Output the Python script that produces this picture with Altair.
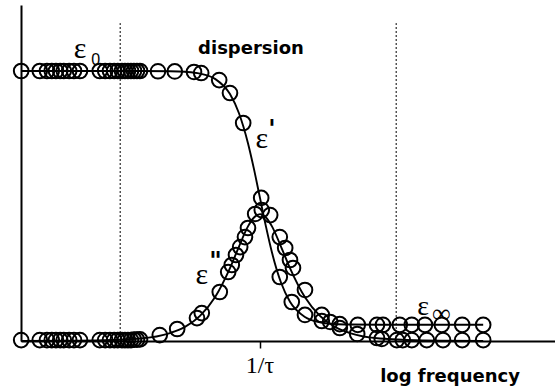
import altair as alt
import pandas as pd

# log frequency in decades relative to 1/tau ; permittivity in arbitrary units
curve_u = [-3.98, -3.0, -2.0, -1.5, -1.25, -1.0, -0.75, -0.5, -0.35, -0.2, -0.1, 0.0,
           0.1, 0.2, 0.35, 0.5, 0.75, 1.0, 1.25, 1.5, 2.0, 3.0, 3.72]
curve_eps1 = [20.0, 20.0, 20.0, 19.98, 19.94, 19.81, 19.42, 18.29, 16.87, 14.65, 12.73, 10.6,
              8.47, 6.55, 4.33, 2.91, 1.78, 1.39, 1.26, 1.22, 1.2, 1.2, 1.2]
curve_eps2 = [0.0, 0.02, 0.19, 0.59, 1.05, 1.86, 3.24, 5.40, 7.0, 8.49, 9.15, 9.4,
              9.15, 8.49, 7.0, 5.40, 3.24, 1.86, 1.05, 0.59, 0.19, 0.02, 0.0]

pts1_u = [-3.98, -3.67, -3.55, -3.47, -3.40, -3.33, -3.27, -3.18, -3.10, -3.00,
          -2.67, -2.58, -2.50, -2.43, -2.37, -2.30, -2.25, -2.20, -2.15, -2.10, -2.05, -2.00,
          -1.70, -1.42, -1.10, -0.98, -0.68, -0.50, -0.28, 0.02, 0.33, 0.53, 0.75, 1.03,
          1.33, 1.63, 1.95, 2.05, 2.33, 2.53, 2.75, 3.03, 3.37, 3.72]
pts1_v = [20.0, 20.0, 20.0, 20.0, 20.0, 20.0, 20.0, 20.0, 20.0, 20.0,
          20.0, 20.0, 20.0, 20.0, 20.0, 20.0, 20.0, 20.0, 20.0, 20.0, 20.0, 20.0,
          19.98, 19.97, 19.93, 19.85, 19.33, 18.37, 16.15, 10.6, 4.74, 2.89, 1.93, 1.48,
          1.25, 1.2, 1.2, 1.2, 1.2, 1.2, 1.2, 1.2, 1.2, 1.2]

pts2_u = [-3.98, -3.67, -3.55, -3.47, -3.40, -3.33, -3.27, -3.18, -3.10, -3.00,
          -2.67, -2.58, -2.50, -2.43, -2.37, -2.30, -2.25, -2.20, -2.15, -2.10, -2.05, -2.00,
          -1.67, -1.38, -1.05, -0.97, -0.67, -0.53, -0.47, -0.40, -0.33, -0.25, -0.20, -0.08,
          0.03, 0.17, 0.33, 0.42, 0.50, 0.55, 0.75, 1.03, 1.17, 1.33, 1.62, 1.95, 2.03,
          2.28, 2.38, 2.53, 2.78, 3.05, 3.37, 3.72]
pts2_v = [0.07, 0.07, 0.07, 0.07, 0.07, 0.07, 0.07, 0.07, 0.07, 0.07,
          0.07, 0.07, 0.07, 0.07, 0.07, 0.07, 0.07, 0.07, 0.07, 0.1, 0.1, 0.12,
          0.44, 0.89, 1.70, 2.07, 3.63, 5.11, 5.63, 6.37, 6.96, 7.70, 8.37, 9.41,
          9.70, 9.33, 7.70, 6.89, 6.0, 5.41, 3.78, 1.93, 1.41, 0.96, 0.52, 0.22, 0.15,
          0.07, 0.07, 0.07, 0.07, 0.07, 0.07, 0.07]

marker_u = [-2.33, 2.27]
marker_top = 23.55

X_DOMAIN = [-3.983, 4.917]
Y_DOMAIN = [0, 24.89]

xaxis = alt.Axis(domain=True, domainColor="black", domainWidth=2, values=[0], ticks=True,
                 tickSize=7, tickWidth=1.5, tickColor="black", labels=False, grid=False, title=None)
yaxis = alt.Axis(domain=True, domainColor="black", domainWidth=2, ticks=False, labels=False,
                 grid=False, title=None)
X = alt.X("u:Q", scale=alt.Scale(domain=X_DOMAIN, nice=False, zero=False), axis=xaxis)
Y = alt.Y("v:Q", scale=alt.Scale(domain=Y_DOMAIN, nice=False, zero=False), axis=yaxis)

curves = pd.DataFrame({
    "u": curve_u + curve_u,
    "v": curve_eps1 + curve_eps2,
    "s": ["eps1"] * len(curve_u) + ["eps2"] * len(curve_u),
})
points = pd.DataFrame({
    "u": pts1_u + pts2_u,
    "v": pts1_v + pts2_v,
})
rules = pd.DataFrame({"u": marker_u, "v": [0, 0], "v2": [marker_top, marker_top]})

rule_layer = alt.Chart(rules).mark_rule(color="black", strokeWidth=1, strokeDash=[2, 2]).encode(
    x=X, y=Y, y2="v2:Q")

line_layer = alt.Chart(curves).mark_line(color="black", strokeWidth=1.9, interpolate="monotone").encode(
    x=X, y=Y, detail="s:N")

point_layer = alt.Chart(points).mark_point(shape="circle", filled=False, color="black",
                                           size=215, strokeWidth=2, opacity=1).encode(x=X, y=Y)

serif_txt = pd.DataFrame({
    "t": ["ε", "ε", "ε", "ε", "∞", "1/τ"],
    "u": [-3.0, 0.03, -0.97, 2.72, 3.02, 0.0],
    "v": [21.0, 14.3, 4.2, 1.95, 1.4, -2.35],
    "sz": [30, 30, 30, 28, 26, 24],
})
serif_layer = alt.Chart(serif_txt).mark_text(font="Liberation Serif", baseline="alphabetic",
                                             align="center", color="black").encode(
    x=X, y=Y, text="t:N", size=alt.Size("sz:Q", scale=None))

bold_txt = pd.DataFrame({
    "t": ["dispersion", "log frequency", "'", "\""],
    "u": [-0.15, 3.167, 0.2, -0.74],
    "v": [21.26, -3.04, 15.1, 5.3],
    "sz": [18, 18, 24, 24],
})
bold_layer = alt.Chart(bold_txt).mark_text(font="DejaVu Sans", fontWeight="bold", baseline="alphabetic",
                                           align="center", color="black").encode(
    x=X, y=Y, text="t:N", size=alt.Size("sz:Q", scale=None))

sub_txt = pd.DataFrame({"t": ["0"], "u": [-2.74], "v": [20.44]})
sub_layer = alt.Chart(sub_txt).mark_text(font="Liberation Sans", fontSize=16, baseline="alphabetic",
                                         align="center", color="black").encode(x=X, y=Y, text="t:N")

chart = alt.layer(rule_layer, line_layer, point_layer, serif_layer, bold_layer, sub_layer).properties(
    width=534, height=336,
    padding={"left": 21, "top": 5, "right": 0, "bottom": 50},
    autosize=alt.AutoSizeParams(type="none"),
    background="white",
).configure_view(stroke=None)

chart.save("out.html", embed_options={"renderer": "svg", "actions": False})
